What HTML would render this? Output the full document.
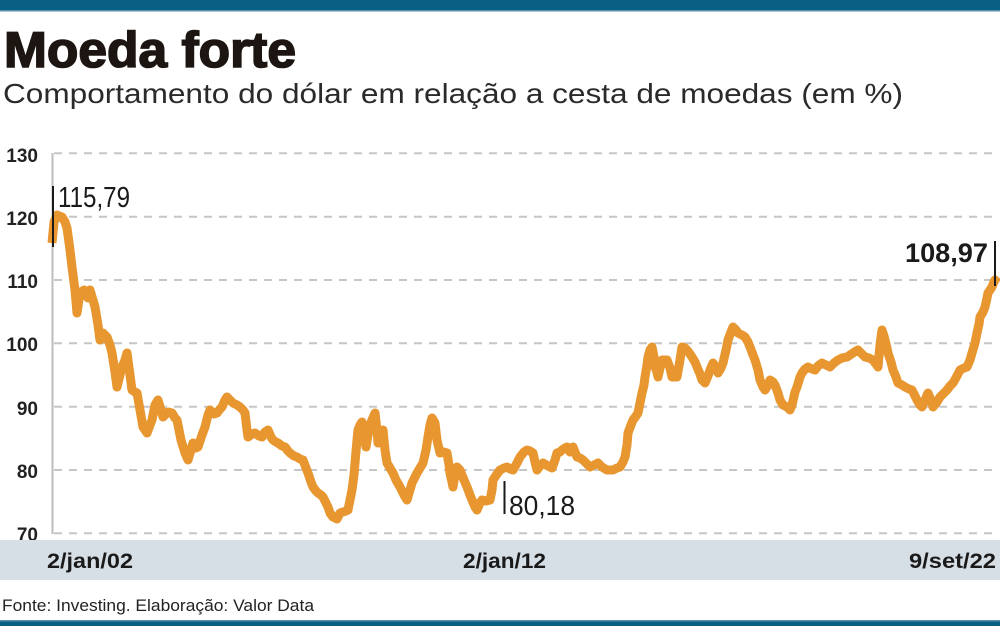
<!DOCTYPE html>
<html><head><meta charset="utf-8"><style>
html,body{margin:0;padding:0;background:#fff;}
svg{display:block;}
</style></head><body>
<svg width="1000" height="626" viewBox="0 0 1000 626" xmlns="http://www.w3.org/2000/svg">
<rect x="0" y="0" width="1000" height="626" fill="#fff"/>
<rect x="0" y="0" width="1000" height="10" fill="#0a5f85"/>
<rect x="0" y="10" width="1000" height="1.5" fill="#5a8fab"/>
<text x="4" y="67" font-family="Liberation Sans, sans-serif" font-weight="900" font-size="50" fill="#1c1511" stroke="#1c1511" stroke-width="1.6" textLength="292" lengthAdjust="spacingAndGlyphs">Moeda forte</text>
<text x="3" y="103" font-family="Liberation Sans, sans-serif" font-size="28" fill="#2a2a2a" textLength="900" lengthAdjust="spacingAndGlyphs">Comportamento do dólar em relação a cesta de moedas (em %)</text>

<g stroke="#c6c6c6" stroke-width="2" stroke-dasharray="8 7">
<line x1="54" y1="153.3" x2="998" y2="153.3"/>
<line x1="54" y1="216.7" x2="998" y2="216.7"/>
<line x1="54" y1="280" x2="998" y2="280"/>
<line x1="54" y1="343.3" x2="998" y2="343.3"/>
<line x1="54" y1="406.7" x2="998" y2="406.7"/>
<line x1="54" y1="470" x2="998" y2="470"/>
<line x1="54" y1="533.3" x2="998" y2="533.3"/>
</g>
<line x1="52.5" y1="153" x2="52.5" y2="534" stroke="#bdbdbd" stroke-width="2"/>

<g font-family="Liberation Sans, sans-serif" font-weight="bold" font-size="19" fill="#222" text-anchor="end">
<text x="38" y="162">130</text>
<text x="38" y="225">120</text>
<text x="38" y="288">110</text>
<text x="38" y="351">100</text>
<text x="38" y="415">90</text>
<text x="38" y="478">80</text>
<text x="38" y="541">70</text>
</g>

<rect x="0" y="540" width="1000" height="40" fill="#d7dfe6"/>
<g font-family="Liberation Sans, sans-serif" font-weight="bold" font-size="21" fill="#1a1a1a">
<text x="47" y="568" textLength="86" lengthAdjust="spacingAndGlyphs">2/jan/02</text>
<text x="463" y="568" textLength="83" lengthAdjust="spacingAndGlyphs">2/jan/12</text>
<text x="909" y="568" textLength="87" lengthAdjust="spacingAndGlyphs">9/set/22</text>
</g>

<polyline fill="none" stroke="#e8962f" stroke-width="9" stroke-linejoin="round" stroke-linecap="butt" points="52,243 54,222 57,215 62,217 65,222 67,228 70,250 72,267 75,290 77,313 80,293 84,290 88,298 90,290 93,300 95,307 98,325 100,340 103,333 107,337 110,345 112,353 115,372 117,387 120,375 122,367 125,360 127,353 130,375 132,390 135,392 137,393 140,410 143,427 147,433 150,425 152,420 155,405 158,400 161,410 163,417 168,412 172,413 175,418 177,420 181,440 185,453 188,460 191,450 193,443 196,448 198,447 202,435 205,427 208,415 210,410 214,414 217,413 220,409 222,407 225,400 227,397 230,400 233,403 237,405 240,407 243,410 245,413 247,430 248,437 252,434 255,433 259,436 262,437 265,432 268,430 271,437 273,440 276,442 278,443 282,446 285,447 288,451 290,453 294,456 297,457 300,459 303,460 306,468 308,473 311,482 313,487 316,491 318,493 321,495 323,497 326,503 328,507 330,513 333,517 337,519 340,513 343,512 346,511 348,510 350,500 352,490 354,475 355,463 357,440 358,430 360,425 362,422 364,435 366,447 368,435 370,425 372,420 375,413 377,430 378,443 381,435 383,430 385,450 387,463 390,468 393,473 396,480 400,487 404,495 407,500 410,490 412,483 415,477 417,473 420,468 423,463 426,450 428,437 430,425 432,418 435,423 437,440 440,453 444,452 447,453 449,465 450,473 452,482 453,487 455,475 457,467 460,470 464,480 467,487 470,495 472,500 475,507 477,510 480,503 482,500 486,501 490,500 492,490 493,480 497,474 500,470 504,468 507,467 510,469 513,470 517,463 520,457 524,452 527,450 530,451 533,453 535,462 537,470 540,466 543,463 548,466 552,468 555,460 557,453 560,452 562,450 565,448 567,447 570,452 573,447 577,457 580,458 583,460 587,464 590,467 594,465 598,463 602,467 607,470 610,470 613,470 617,468 620,467 623,462 625,457 627,445 628,433 631,425 633,420 636,416 638,413 640,403 642,393 644,385 645,377 647,365 648,357 650,350 652,347 654,357 655,367 657,372 658,377 660,368 662,360 665,360 667,360 670,368 672,377 675,377 677,377 680,360 682,347 685,348 687,350 690,354 692,357 695,362 697,367 700,374 702,380 705,383 708,376 710,370 713,363 716,368 718,373 721,368 723,363 726,350 728,340 731,332 733,327 736,330 738,333 742,335 745,337 748,342 750,347 753,355 755,360 758,370 760,380 763,387 765,390 768,385 770,380 773,382 775,385 778,393 780,400 783,405 787,407 790,410 792,405 795,392 797,387 800,377 802,373 805,369 808,367 812,369 815,370 818,366 822,363 826,365 830,367 834,363 838,360 842,358 847,357 850,355 853,353 856,351 858,350 862,354 865,357 869,358 873,360 876,364 878,367 880,345 882,330 884,336 885,340 887,348 888,353 891,362 893,370 896,377 898,383 902,385 905,387 909,389 912,390 915,396 917,400 920,405 922,407 925,400 928,393 931,400 933,407 937,402 940,397 944,393 947,390 950,386 953,383 957,376 960,370 964,368 967,367 970,360 972,353 975,343 977,333 979,324 980,317 983,312 985,307 987,298 988,293 990,290 992,287 994,282 995,280 998,283"/>

<line x1="53" y1="186" x2="53" y2="247" stroke="#1a1a1a" stroke-width="2"/>
<text x="58" y="207" font-family="Liberation Sans, sans-serif" font-size="29" fill="#1a1a1a" textLength="72" lengthAdjust="spacingAndGlyphs">115,79</text>

<line x1="504.5" y1="481" x2="504.5" y2="514" stroke="#1a1a1a" stroke-width="2"/>
<text x="509" y="515" font-family="Liberation Sans, sans-serif" font-size="28" fill="#1a1a1a" textLength="66" lengthAdjust="spacingAndGlyphs">80,18</text>

<line x1="995" y1="241" x2="995" y2="286" stroke="#1a1a1a" stroke-width="2"/>
<text x="905" y="262" font-family="Liberation Sans, sans-serif" font-weight="bold" font-size="27" fill="#1a1a1a" textLength="83" lengthAdjust="spacingAndGlyphs">108,97</text>

<text x="2" y="611" font-family="Liberation Sans, sans-serif" font-size="17" fill="#222" textLength="312" lengthAdjust="spacingAndGlyphs">Fonte: Investing. Elaboração: Valor Data</text>
<rect x="0" y="620" width="1000" height="1.5" fill="#5a8fab"/>
<rect x="0" y="621.5" width="1000" height="4.5" fill="#0a5f85"/>
</svg>
</body></html>
